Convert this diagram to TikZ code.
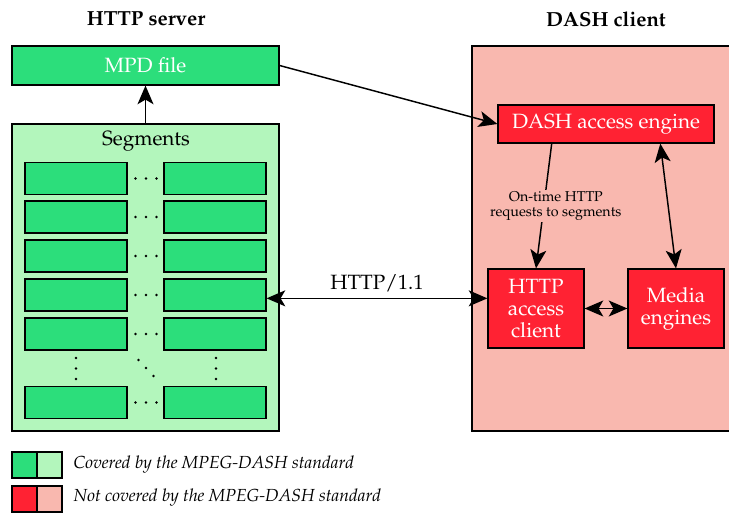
\documentclass[tikz,border=0pt]{standalone}
\usepackage[T1]{fontenc}
\usepackage{mathpazo}
\usetikzlibrary{arrows.meta,calc}
\definecolor{dgreen}{HTML}{2CDE7B}
\definecolor{lgreen}{HTML}{B3F6BC}
\definecolor{dred}{HTML}{FF2233}
\definecolor{lred}{HTML}{F9B8AF}
\begin{document}
\begin{tikzpicture}[x=0.75pt,y=-0.75pt,
  wh/.style 2 args={minimum width=#1*0.75pt,minimum height=#2*0.75pt},
  blk/.style={draw=black,line width=0.9pt,inner sep=0pt,align=center},
  gbox/.style={blk,fill=dgreen,text=white},
  lgbox/.style={blk,fill=lgreen},
  rbox/.style={blk,fill=dred,text=white},
  lrbox/.style={blk,fill=lred},
  segbox/.style={gbox,wh={102}{32}},
  big/.style={font=\fontsize{15.5}{16.5}\selectfont},
  bigbf/.style={font=\fontsize{15.3}{16.5}\selectfont\bfseries},
  legend/.style={anchor=west,font=\fontsize{13.1}{14}\selectfont\itshape},
  tip/.style={line width=1.1pt,-{Stealth[length=14pt,width=12pt,inset=3.5pt]}},
  tips/.style={line width=1.1pt,{Stealth[length=14pt,width=12pt,inset=3.5pt]}-{Stealth[length=14pt,width=12pt,inset=3.5pt]}},
  dot/.style={fill=black}
]
\useasboundingbox (0,0) rectangle (729,513);
\clip (0,0) rectangle (729,513);

% titles
\node[bigbf] (tserver) at (146,19) {HTTP server};
\node[bigbf] (tclient) at (606,19) {DASH client};

% server side
\node[gbox,big,wh={267}{39}] (mpd) at (145.5,65.5) {MPD file};
\node[lgbox,wh={267}{307}] (seg) at (145.5,277.5) {};
\node[big] (seglabel) at (146,141) {Segments};

\foreach \r/\y in {1/178.5,2/217,3/256,4/295,5/334,6/402.5}{
  \node[segbox] (l\r) at (76,\y) {};
  \node[segbox] (r\r) at (215,\y) {};
  \foreach \x in {135.5,146,156.5}{
    \fill[dot] (\x,\y) circle (1.1pt);
  }
}
% vertical and diagonal dots
\foreach \y in {358,368.5,379}{
  \fill[dot] (76,\y) circle (1.1pt);
  \fill[dot] (216,\y) circle (1.1pt);
}
\fill[dot] (138.5,360) circle (1.1pt);
\fill[dot] (146,368) circle (1.1pt);
\fill[dot] (153.5,376) circle (1.1pt);

% client side
\node[lrbox,wh={268}{385}] (client) at (606,238.5) {};
\node[rbox,big,wh={216}{38}] (eng) at (606,124) {DASH access engine};
\node[rbox,big,wh={96}{79}] (hac) at (536,308.5) {HTTP\\access\\client};
\node[rbox,big,wh={96}{79}] (med) at (676,308.5) {Media\\engines};

% connectors
\draw[tip] (seg.north) -- (mpd.south);
\draw[tip] (mpd.east) -- (eng.west);
\draw[tip] ($(eng.south west)!0.25!(eng.south east)$) -- (hac.north)
  node[pos=0.5,xshift=9pt,fill=lred,inner sep=1pt,align=center,
       font=\fontsize{10.7}{11.5}\selectfont] (req) {On-time HTTP\\requests to segments};
\draw[tips] ($(eng.south west)!0.75!(eng.south east)$) -- (med.north);
\draw[tips] ([yshift=-2.5pt]r4.east) -- ([yshift=-2.5pt]r4.east -| hac.west)
  node[pos=0.5,above=1pt,big] (http) {HTTP/1.1};
\draw[tips] (hac.east) -- (med.west);

% legend
\node[gbox,wh={25}{26}] (k1a) at (24.5,465) {};
\node[lgbox,wh={25}{26}] (k1b) at (49.5,465) {};
\node[rbox,wh={25}{26}] (k2a) at (24.5,499) {};
\node[lrbox,wh={25}{26}] (k2b) at (49.5,499) {};
\node[legend] (cov) at (69,465) {Covered by the MPEG-DASH standard};
\node[legend] (ncov) at (69,498) {Not covered by the MPEG-DASH standard};
\end{tikzpicture}
\end{document}
